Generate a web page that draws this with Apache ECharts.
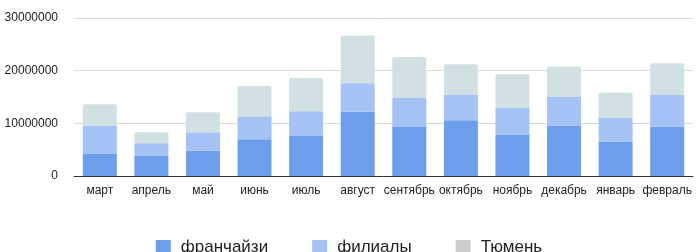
<!DOCTYPE html>
<html>
<head>
<meta charset="utf-8">
<script src="https://cdn.jsdelivr.net/npm/echarts@6/dist/echarts.min.js"></script>
<style>
  html, body { margin: 0; padding: 0; background: #fff; }
  #chart { width: 698px; height: 252px; }
</style>
</head>
<body>
<div id="chart"></div>
<script>
// месяцы
var months = ['март', 'апрель', 'май', 'июнь', 'июль', 'август', 'сентябрь', 'октябрь', 'ноябрь', 'декабрь', 'январь', 'февраль'];
// значения по сериям
var franchise = [4200000, 3900000, 4800000, 7000000, 7700000, 12200000, 9300000, 10600000, 7900000, 9600000, 6500000, 9400000];
var branches = [5300000, 2300000, 3500000, 4200000, 4600000, 5400000, 5600000, 4800000, 5100000, 5400000, 4500000, 6000000];
var tyumen = [4100000, 2100000, 3800000, 5900000, 6300000, 9100000, 7700000, 5800000, 6300000, 5800000, 4800000, 6000000];
var yTicks = [0, 10000000, 20000000, 30000000];

var chart = echarts.init(document.getElementById('chart'));

chart.setOption({
  animation: false,
  textStyle: { fontFamily: 'Arial, "Liberation Sans", sans-serif' },
  grid: { left: 74, right: 5, top: 18, bottom: 76 },
  legend: {
    top: 234,
    left: 'center',
    itemWidth: 15,
    itemHeight: 15,
    itemGap: 44,
    icon: 'rect',
    textStyle: { fontSize: 17, color: '#222', padding: [0, 0, 0, 5] },
    data: [
      { name: 'франчайзи', itemStyle: { color: '#6d9eeb' } },
      { name: 'филиалы', itemStyle: { color: '#a4c2f4' } },
      { name: 'Тюмень', itemStyle: { color: '#cccccc' } }
    ]
  },
  xAxis: {
    type: 'category',
    data: months,
    axisLine: { lineStyle: { color: '#333', width: 1 } },
    axisTick: { show: false },
    axisLabel: { color: '#222', fontSize: 12, margin: 9, interval: 0 }
  },
  yAxis: {
    type: 'value',
    min: yTicks[0],
    max: yTicks[yTicks.length - 1],
    interval: 10000000,
    axisLine: { show: false },
    axisTick: { show: false },
    axisLabel: { color: '#222', fontSize: 12, margin: 16, formatter: function (v) { return String(v); } },
    splitLine: { lineStyle: { color: '#d9d9d9' } }
  },
  series: [
    {
      name: 'франчайзи', type: 'bar', stack: 'all', data: franchise, barWidth: 34,
      itemStyle: { color: '#6d9eeb' }
    },
    {
      name: 'филиалы', type: 'bar', stack: 'all', data: branches, barWidth: 34,
      itemStyle: { color: '#a4c2f4' }
    },
    {
      name: 'Тюмень', type: 'bar', stack: 'all', data: tyumen, barWidth: 34,
      itemStyle: { color: '#d0e0e3', borderRadius: [2, 2, 0, 0] }
    }
  ]
});
</script>
</body>
</html>
